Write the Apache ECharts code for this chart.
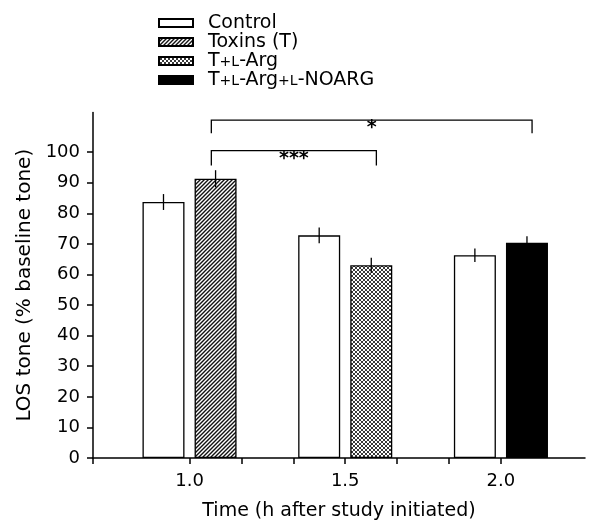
<!DOCTYPE html>
<html><head><meta charset="utf-8">
<script src="https://cdn.jsdelivr.net/npm/echarts@6/dist/echarts.min.js"></script>
<style>html,body{margin:0;padding:0;background:#fff}#c{width:592px;height:526px}</style>
</head><body><div id="c"></div>
<script>
// ---- data ----
const seriesNames = ['Control', 'Toxins (T)', 'T+L-Arg', 'T+L-Arg+L-NOARG'];
const timePoints = [1.0, 1.5, 2.0];
const controlValues = [83.7, 72.8, 66.3];
const controlErrors = [2.6, 2.6, 2.2];
const toxinsValues = [91.3, null, null];
const toxinsErrors = [2.8, null, null];
const argValues = [null, 63.0, null];
const argErrors = [null, 2.5, null];
const noargValues = [null, null, 70.4];
const noargErrors = [null, null, 2.1];
const yTickValues = [0, 10, 20, 30, 40, 50, 60, 70, 80, 90, 100];
const xLabelValues = [1.0, 1.5, 2.0];
const xTickValues = [0.69, 1.0, 7 / 6, 8 / 6, 1.5, 10 / 6, 11 / 6, 2.0];
const bracketLeft = [1.07, 1.07];
const bracketRight = [1.6, 2.1];
const bracketTop = [100.5, 110.5];
const bracketEnd = [95.6, 106.2];
const bracketLabels = ['***', '*'];

// ---- style ----
const FONT = 'DejaVu Sans';
const BAR_W = 42, BAR_GAP = 0.24;
const SIDE_OFFSET = BAR_W * (1 + BAR_GAP) / 2;

function makePattern(draw, size) {
  const c = document.createElement('canvas');
  c.width = size; c.height = size;
  const ctx = c.getContext('2d');
  ctx.fillStyle = '#fff'; ctx.fillRect(0, 0, size, size);
  draw(ctx, size);
  return { image: c, repeat: 'repeat' };
}
const hatch = makePattern((ctx, s) => {
  ctx.strokeStyle = '#111'; ctx.lineWidth = 1.4;
  ctx.beginPath();
  ctx.moveTo(-1, s + 1); ctx.lineTo(s + 1, -1);
  ctx.moveTo(-1, 1); ctx.lineTo(1, -1);
  ctx.moveTo(s - 1, s + 1); ctx.lineTo(s + 1, s - 1);
  ctx.stroke();
}, 4);
const cross = makePattern((ctx, s) => {
  ctx.strokeStyle = '#222'; ctx.lineWidth = 0.9;
  ctx.beginPath();
  ctx.moveTo(-1, s + 1); ctx.lineTo(s + 1, -1);
  ctx.moveTo(-1, -1); ctx.lineTo(s + 1, s + 1);
  ctx.stroke();
}, 4);

const toPairs = vals => timePoints.map((t, i) => [t, vals[i] == null ? '-' : vals[i]]);

const errData = [];
function addErr(vals, errs, side) {
  timePoints.forEach((t, i) => { if (vals[i] != null) errData.push([t, vals[i], errs[i], side]); });
}
addErr(controlValues, controlErrors, -1);
addErr(toxinsValues, toxinsErrors, 1);
addErr(argValues, argErrors, 1);
addErr(noargValues, noargErrors, 1);

const bracketData = bracketLeft.map((x, i) => [x, bracketRight[i], bracketTop[i], bracketEnd[i]]);

const barBase = { type: 'bar', barWidth: BAR_W, barGap: (BAR_GAP * 100) + '%', z: 2 };
const chart = echarts.init(document.getElementById('c'), null, { renderer: 'canvas' });
chart.setOption({
  animation: false,
  backgroundColor: '#fff',
  textStyle: { fontFamily: FONT, color: '#000' },
  grid: { left: 93, right: 7, top: 112.4, bottom: 66.7, containLabel: false },
  legend: {
    orient: 'vertical', left: 158, top: 13.5, itemGap: 0, padding: 0,
    itemWidth: 34, itemHeight: 8, icon: 'rect',
    data: seriesNames,
    textStyle: {
      fontFamily: FONT, fontSize: 19, color: '#000', lineHeight: 19, padding: [0, 0, 0, 10],
      rich: { s: { fontFamily: FONT, fontSize: 14, verticalAlign: 'bottom', lineHeight: 19, padding: [0, 0, 1, 0] } }
    },
    formatter: name => name.replace(/\+L/g, '{s|+L}')
  },
  xAxis: {
    type: 'value', min: 0.69, max: 2.27,
    name: 'Time (h after study initiated)', nameLocation: 'middle', nameGap: 44,
    nameTextStyle: { fontFamily: FONT, fontSize: 19, color: '#000' },
    axisLine: { show: true, onZero: false, lineStyle: { color: '#000', width: 1.5 } },
    axisTick: { show: true, length: 6, lineStyle: { color: '#000', width: 1.5 }, customValues: xTickValues },
    axisLabel: { fontFamily: FONT, fontSize: 18, color: '#000', margin: 14, customValues: xLabelValues, formatter: v => v.toFixed(1) },
    splitLine: { show: false }
  },
  yAxis: {
    type: 'value', min: 0, max: 113,
    name: 'LOS tone (% baseline tone)', nameLocation: 'middle', nameGap: 56,
    nameTextStyle: { fontFamily: FONT, fontSize: 20, color: '#000' },
    axisLine: { show: true, lineStyle: { color: '#000', width: 1.5 } },
    axisTick: { show: true, length: 6, lineStyle: { color: '#000', width: 1.5 }, customValues: yTickValues },
    axisLabel: { fontFamily: FONT, fontSize: 18, color: '#000', margin: 13, customValues: yTickValues },
    splitLine: { show: false }
  },
  series: [
    Object.assign({}, barBase, { name: seriesNames[0], data: toPairs(controlValues),
      itemStyle: { color: '#fff', borderColor: '#000', borderWidth: 1.3 } }),
    Object.assign({}, barBase, { name: seriesNames[1], stack: 'treat', data: toPairs(toxinsValues),
      itemStyle: { color: hatch, borderColor: '#000', borderWidth: 1.3 } }),
    Object.assign({}, barBase, { name: seriesNames[2], stack: 'treat', data: toPairs(argValues),
      itemStyle: { color: cross, borderColor: '#000', borderWidth: 1.3 } }),
    Object.assign({}, barBase, { name: seriesNames[3], stack: 'treat', data: toPairs(noargValues),
      itemStyle: { color: '#000', borderColor: '#000', borderWidth: 1.3 } }),
    {
      type: 'custom', name: 'err', z: 5, data: errData, silent: true,
      renderItem: (params, api) => {
        const x = api.value(0), v = api.value(1), e = api.value(2), side = api.value(3);
        const top = api.coord([x, v + e]);
        const bot = api.coord([x, v - e]);
        const px = top[0] + side * SIDE_OFFSET;
        return { type: 'line', shape: { x1: px, y1: top[1], x2: px, y2: bot[1] },
          style: { stroke: '#000', lineWidth: 1.3 } };
      }
    },
    {
      type: 'custom', name: 'sig', z: 5, data: bracketData, silent: true, clip: false,
      renderItem: (params, api) => {
        const a = api.coord([api.value(0), api.value(2)]);
        const b = api.coord([api.value(1), api.value(2)]);
        const ea = api.coord([api.value(0), api.value(3)]);
        return {
          type: 'group',
          children: [
            { type: 'polyline', shape: { points: [[a[0], ea[1]], [a[0], a[1]], [b[0], a[1]], [b[0], ea[1]]] },
              style: { stroke: '#000', lineWidth: 1.3, fill: null } },
            { type: 'text', style: { text: bracketLabels[params.dataIndex], x: (a[0] + b[0]) / 2, y: a[1] - 1,
              align: 'center', verticalAlign: 'top', font: 'bold 19px "DejaVu Sans"', fill: '#000' } }
          ]
        };
      }
    }
  ]
});
</script>
</body></html>
